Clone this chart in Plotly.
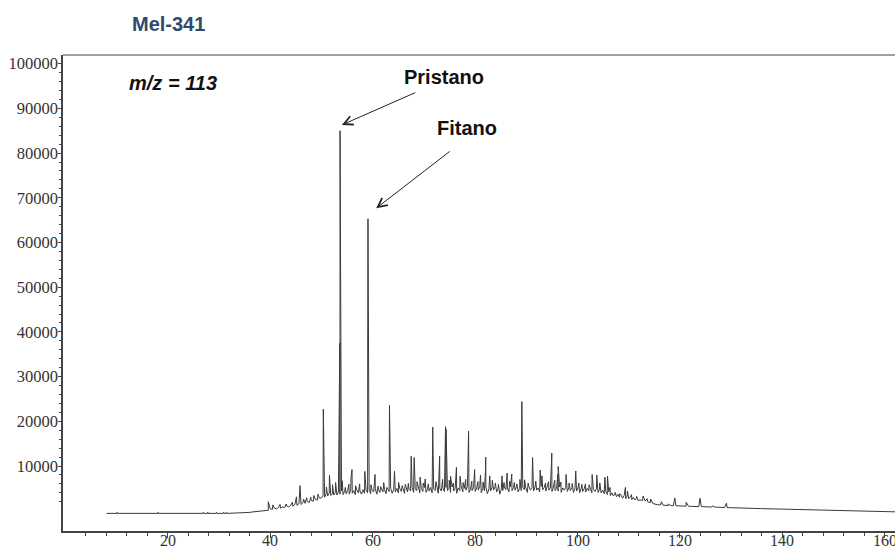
import plotly.graph_objects as go

# ---------------------------------------------------------------------------
# m/z 113 ion trace, stored as scan blocks: start time (min), scan step (min),
# abundances (counts)
# ---------------------------------------------------------------------------
flat_t0, flat_dt = 8.0, 2.0
flat_abund = [-600, -610, -600, -605, -600, -610, -600, -605, -600, -610,
              -600, -600, -590]

rise_t0, rise_dt = 32.4, 0.4
rise_abund = [-580, -560, -570, -520, -500, -510, -440, -420, -360, -380,
              -290, -230, -250, -120, -60, -100, 80, 180, 90, 420,
              300, 560, 420, 700, 560, 860, 700, 1040, 880, 1200,
              1020, 1380, 1200, 1600, 1400, 1850, 1650, 2050, 1850, 2300,
              2100, 2550, 2350, 2800]

hump_t0, hump_dt = 50.0, 0.3
hump_abund = [
    2900, 3400, 3000, 3700, 3300, 3900, 3400, 3700, 3500, 4100,
    3500, 4200, 3700, 4400, 3600, 4300, 3800, 4500, 3700, 4600,
    3900, 4500, 3600, 4600, 4000, 4400, 3700, 4700, 3900, 4600,
    4000, 4800, 3800, 4500, 4200, 4900, 3700, 4700, 4100, 4900,
    4200, 4700, 3800, 4900, 4300, 5000, 3900, 4800, 4200, 5000,
    4000, 4900, 4300, 4800, 3900, 5100, 4200, 4800, 4400, 5200,
    4100, 4900, 4500, 5100, 4000, 5000, 4300, 5200, 4100, 4900,
    4400, 5200, 4000, 4900, 4500, 5300, 3900, 5000, 4400, 5100,
    4300, 5200, 4500, 5000, 4100, 5300, 4400, 4900, 3900, 5100,
    4500, 5300, 4200, 5000, 4600, 5400, 4100, 4900, 4500, 5200,
    4300, 5100, 4600, 5400, 4000, 5000, 4500, 5300, 3800, 4900,
    4400, 5200, 4600, 5400, 4200, 5000, 3700, 4800, 4500, 5300,
    4700, 5100, 4200, 5400, 4500, 5200, 4600, 5400, 4200, 5000,
    4500, 5300, 4700, 5100, 4100, 5400, 4600, 5200, 4400, 5300,
    4600, 5100, 4200, 5400, 4700, 5200, 4400, 5300, 4600, 5100,
    4300, 5300, 4500, 5000, 4400, 5300, 4100, 5100, 4600, 5200,
    4300, 5100, 4500, 5200, 4100, 5000, 4400, 5100, 4000, 5000,
    4300, 4900, 4200, 5000, 4400, 4900, 4000, 4800, 4300, 4900,
    4100, 4700, 4000, 4600, 3800, 4400, 3600, 4200, 3400, 4000,
    3300, 3800, 3100, 3700, 3000, 3500, 2800, 3400, 2700, 3300,
    2700, 3100, 2500, 3000, 2400, 2800, 2300,
]

tail_t0, tail_dt = 112.2, 0.5
tail_abund = [2400, 2300, 2150, 2000, 1800, 1600, 1420, 1320, 1300, 1240,
              1210, 1150, 1160, 1100, 1110, 1050, 1060, 1000, 1010, 980,
              960, 950, 930, 920, 900, 880, 860, 850, 830, 800,
              780, 760, 740, 720, 700, 680, 650, 620, 600]

end_t0, end_dt = 132.7, 1.5
end_abund = [560, 520, 470, 430, 380, 330, 280, 250, 200, 160,
             120, 60, 10, -60, -110, -150, -190, -220, -240, -260, -270]

# Resolved peaks (retention time, abundance); close pairs are shoulder + apex
peak_rt = [
    10.02, 10.1, 10.18, 18.02, 18.1, 18.18, 26.82, 26.9, 26.98,
    27.72, 27.8, 27.88, 29.42, 29.5, 29.58, 30.82, 30.9, 30.98,
    31.42, 31.5, 31.58,
    39.6, 40.5, 41.9, 43.1, 44.3, 45.1, 45.8, 46.5, 47.1, 47.9, 48.5, 49.3,
    50.30, 50.35, 50.95, 51.55, 52.15, 52.75, 53.57, 53.62, 54.05, 54.65,
    55.35, 55.75, 55.95, 56.65, 57.45, 58.45, 59.02, 59.07, 59.65, 60.45,
    61.05, 61.55, 62.15, 62.75, 63.22, 63.27, 64.25, 65.05, 65.75, 66.35,
    66.95, 67.47, 67.52, 68.05, 68.10, 68.65, 69.25, 69.85, 70.25, 70.85,
    71.67, 71.72, 72.35, 73.02, 73.07, 73.65, 74.22, 74.32, 74.95, 75.2,
    75.75, 76.35, 77.05, 77.65, 78.15, 78.67, 78.72, 79.35, 79.9, 80.55,
    81.05, 81.55, 82.02, 82.07, 82.85, 83.35, 83.95, 84.55, 85.25, 85.65,
    86.25, 86.75, 87.15, 87.65, 88.15, 88.75, 89.07, 89.12, 89.65, 90.35,
    91.17, 91.22, 91.85, 92.7, 93.05, 93.75, 94.35, 94.92, 94.97, 95.55,
    96.17, 96.22, 96.75, 97.75, 98.35, 98.95, 99.65, 100.25, 100.85, 101.55,
    102.25, 102.85, 103.75, 104.35, 105.35, 105.85, 106.35, 107.35, 108.25,
    109.35, 109.75, 110.55, 111.55,
    112.8, 113.6, 114.3, 116.4, 117.7, 119.0, 121.2, 123.9, 126.5, 129.1,
    142.3, 144.2, 148.6,
]
peak_abund = [
    -600, -330, -600, -600, -350, -600, -600, -360, -600,
    -600, -340, -600, -600, -350, -600, -600, -330, -600,
    -600, -360, -600,
    2000, 1300, 1400, 1500, 1900, 3100, 5600, 2600, 2900, 3000, 3400, 3700,
    16600, 22700, 5300, 7900, 5800, 6300, 37500, 85000, 6700, 5200,
    5900, 7300, 9200, 5600, 6000, 8800, 37500, 65300, 5800, 8100,
    5500, 5400, 6300, 5200, 9800, 23600, 8800, 6300, 5600, 5900,
    6100, 10500, 12200, 9500, 11900, 6500, 7500, 6200, 7100, 6000,
    12300, 18700, 6500, 10400, 12200, 7000, 18800, 18300, 6800, 7700,
    6200, 9700, 7700, 6300, 7000, 14900, 17800, 6600, 9200, 6500,
    8000, 6400, 9000, 12000, 7800, 6800, 6200, 5900, 7800, 6300,
    8400, 6600, 8200, 6300, 6000, 7000, 15000, 24400, 6900, 6200,
    9800, 11900, 6600, 9100, 7800, 6200, 6500, 11000, 12900, 6800,
    8200, 9900, 6400, 8100, 6200, 6100, 8900, 6200, 5900, 6000,
    5800, 8100, 8000, 6200, 7500, 7700, 5200, 4100, 3800,
    5200, 4400, 3600, 3200,
    3300, 2700, 2600, 2000, 1500, 2850, 1900, 2800, 1100, 1700,
    320, 260, 140,
]

# Labelled compounds: name, apex time, apex abundance
marked_names = ["Pristano", "Fitano"]
marked_rt = [53.62, 59.07]
marked_abund = [85000, 65300]

sample_name = "Mel-341"
ion_label = "m/z = 113"

x_ticks = [20, 40, 60, 80, 100, 120, 140, 160]
y_ticks = [10000, 20000, 30000, 40000, 50000, 60000, 70000, 80000, 90000, 100000]

# ---------------------------------------------------------------------------
# Assemble the trace
# ---------------------------------------------------------------------------
points = []
for t0, dt, vals in [(flat_t0, flat_dt, flat_abund), (rise_t0, rise_dt, rise_abund),
                     (hump_t0, hump_dt, hump_abund), (tail_t0, tail_dt, tail_abund),
                     (end_t0, end_dt, end_abund)]:
    points += [(t0 + dt * i, v) for i, v in enumerate(vals)]
points += list(zip(peak_rt, peak_abund))
points.sort(key=lambda p: p[0])
rt = [p[0] for p in points]
abund = [p[1] for p in points]

W, H = 895, 548
ML, MR, MT, MB = 63, 0, 55, 17
PW, PH = W - ML - MR, H - MT - MB


def px(x):
    return (x - ML) / PW


def py(y):
    return (H - MB - y) / PH


fig = go.Figure()
fig.add_trace(go.Scatter(
    x=rt, y=abund, mode="lines",
    line=dict(color="#3a3a3a", width=1),
    hoverinfo="skip",
))

tick_font = dict(family="Liberation Serif, Times New Roman, Times, serif",
                 size=16.5, color="#333333")
xtick_font = dict(family="Liberation Serif, Times New Roman, Times, serif",
                  size=16, color="#333333")

fig.update_xaxes(
    range=[-0.49, 162.0], automargin=False,
    tickvals=x_ticks, showticklabels=False,
    ticks="outside", ticklen=5, tickwidth=1, tickcolor="#444444",
    minor=dict(tickvals=[v for v in range(4, 162, 4) if v % 20], ticks="outside",
               ticklen=3, tickcolor="#444444", showgrid=False),
    showline=True, linecolor="#444444", linewidth=1.5,
    showgrid=False, zeroline=False,
)
fig.update_yaxes(
    range=[-4540, 101940], automargin=False,
    tickvals=y_ticks, ticktext=[str(v) for v in y_ticks],
    ticks="outside", ticklen=3, tickwidth=1, tickcolor="#444444",
    minor=dict(tickvals=[v for v in range(0, 101000, 2000) if v % 10000],
               ticks="outside", ticklen=2, tickcolor="#444444", showgrid=False),
    showline=True, linecolor="#444444", linewidth=1.5,
    showgrid=False, zeroline=False, tickfont=tick_font,
    ticklabelstandoff=-3, ticklabeloverflow="allow",
)

# top frame line
fig.add_shape(type="line", xref="paper", yref="paper", x0=0, x1=1, y0=1, y1=1,
              line=dict(color="#808080", width=1.5))

annotations = [
    dict(text=sample_name, xref="paper", yref="paper", x=px(168), y=py(24),
         xanchor="center", yanchor="middle", showarrow=False,
         font=dict(family="Liberation Sans", size=20, color="#2f4a6d", weight="bold")),
    dict(text=ion_label, xref="paper", yref="paper", x=px(172.5), y=py(82.5),
         xanchor="center", yanchor="middle", showarrow=False,
         font=dict(family="Liberation Sans", size=20, color="#111111",
                   weight="bold", style="italic")),
    dict(text=marked_names[0], xref="paper", yref="paper", x=px(443.8), y=py(77),
         xanchor="center", yanchor="middle", showarrow=False,
         font=dict(family="Liberation Sans", size=20, color="#111111", weight="bold")),
    dict(text=marked_names[1], xref="paper", yref="paper", x=px(467), y=py(128),
         xanchor="center", yanchor="middle", showarrow=False,
         font=dict(family="Liberation Sans", size=20, color="#111111", weight="bold")),
]

# retention-time tick labels, set just under the axis line
for v in x_ticks:
    annotations.append(dict(
        text=str(v), x=v, y=py(540), xref="x", yref="paper",
        xanchor="center", yanchor="middle", showarrow=False,
        font=xtick_font,
    ))

# arrows pointing at the two isoprenoid peaks
arrow_dx = [0.35, 1.6]
arrow_dy = [1300, 2350]
arrow_ax = [75, 75]
arrow_ay = [-33, -58]
for t, a, dx, dy, ax, ay in zip(marked_rt, marked_abund, arrow_dx, arrow_dy, arrow_ax, arrow_ay):
    annotations.append(dict(
        text="", x=t + dx, y=a + dy, xref="x", yref="y",
        showarrow=True, ax=ax, ay=ay, axref="pixel", ayref="pixel",
        arrowhead=5, arrowsize=1.8, arrowwidth=1, arrowcolor="#222222",
        standoff=0, startstandoff=0,
    ))

fig.update_layout(
    width=W, height=H,
    margin=dict(l=ML, r=MR, t=MT, b=MB),
    plot_bgcolor="white", paper_bgcolor="white",
    showlegend=False,
    annotations=annotations,
)

fig.write_html("out.html", config={"displayModeBar": False})
